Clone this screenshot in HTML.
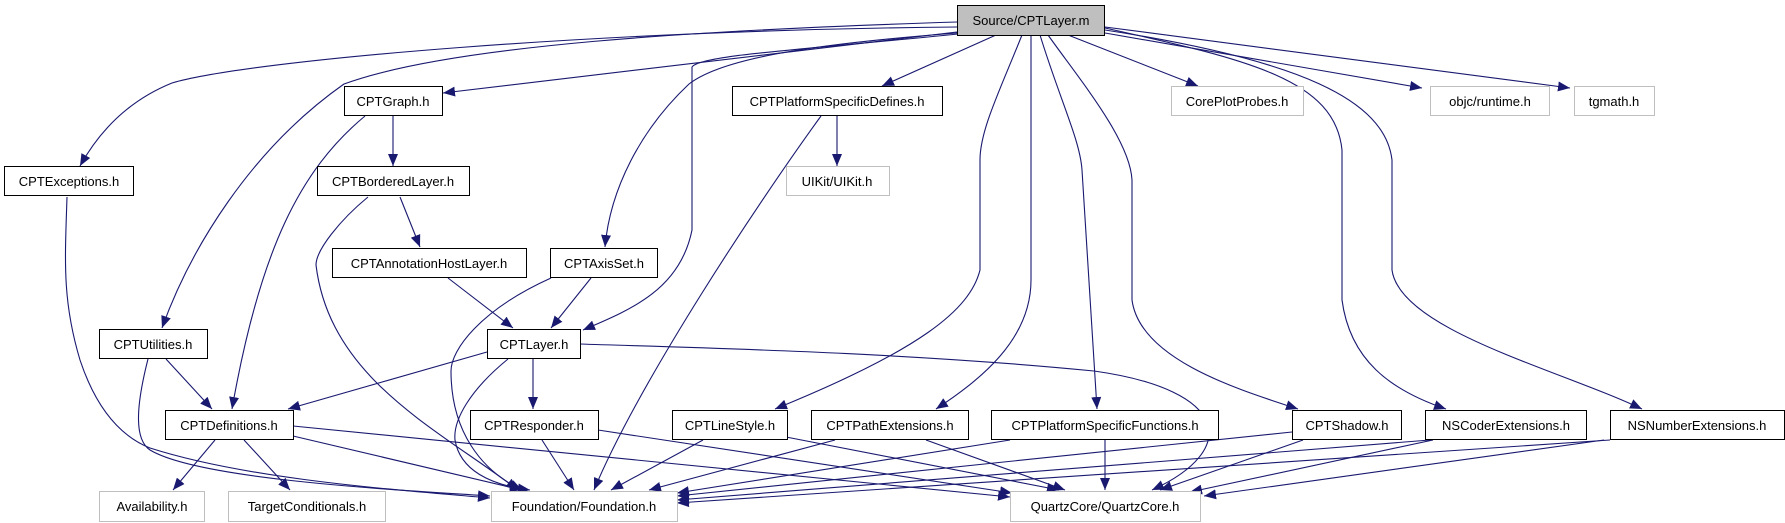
<!DOCTYPE html>
<html><head><meta charset="utf-8"><style>
html,body{margin:0;padding:0;background:#fff;}
svg{display:block;}
text{font-family:"Liberation Sans",sans-serif;font-size:13px;fill:#000;}
</style></head><body>
<svg width="1785" height="523" viewBox="0 0 1785 523" xmlns="http://www.w3.org/2000/svg">
<defs>
<marker id="a" markerWidth="13" markerHeight="10" refX="12" refY="5" orient="auto" markerUnits="userSpaceOnUse">
<path d="M0,0 L12,5 L0,10 z" fill="#191970"/>
</marker>
</defs>
<g fill="none" stroke="#191970" stroke-width="1.1" marker-end="url(#a)">
<path d="M957,27 C600,30 250,60 172,83 C130,100 100,130 80,166"/>
<path d="M957,22 C700,30 450,45 344,84 C250,150 190,250 162,328"/>
<path d="M957,32 L443,93"/>
<path d="M957,33 C800,45 720,60 689,84 C640,130 610,190 605,247"/>
<path d="M958,34 C800,50 700,55 692,67 C692,120 692,200 692,230 C680,290 630,310 583,330"/>
<path d="M996,35 L882,86"/>
<path d="M1022,35 C1000,90 980,130 980,160 L980,270 C970,310 920,350 775,409"/>
<path d="M1031,35 L1031,280 C1031,340 980,380 936,409"/>
<path d="M1040,35 C1060,100 1080,140 1082,170 L1097,409"/>
<path d="M1048,35 C1080,80 1130,140 1132,180 L1132,300 C1140,360 1240,390 1298,409"/>
<path d="M1068,35 L1198,86"/>
<path d="M1105,28 C1250,60 1335,80 1342,150 L1342,300 C1350,360 1390,390 1446,409"/>
<path d="M1105,30 C1300,60 1385,100 1392,160 L1392,270 C1400,330 1560,370 1642,409"/>
<path d="M1105,33 L1422,88"/>
<path d="M1105,27 L1570,88"/>
<path d="M837,116 L837,166"/>
<path d="M821,116 C760,200 640,380 594,490"/>
<path d="M393,116 L393,166"/>
<path d="M365,116 C300,170 260,250 232,409"/>
<path d="M400,197 L420,247"/>
<path d="M368,197 C340,220 316,250 316,265 C330,380 440,430 518,490"/>
<path d="M448,278 L513,328"/>
<path d="M591,278 L551,328"/>
<path d="M551,278 C480,310 451,350 451,371 C451,430 480,470 522,490"/>
<path d="M487,352 L288,409"/>
<path d="M533,359 L533,409"/>
<path d="M508,359 C470,390 453,420 455,440 C460,470 490,485 530,490"/>
<path d="M580,344 C700,348 900,352 1094,371 C1230,390 1240,450 1152,490"/>
<path d="M166,359 L212,409"/>
<path d="M148,359 C135,410 135,440 150,450 C200,480 400,490 490,496"/>
<path d="M67,197 C65,260 62,300 80,360 C100,420 130,440 150,448 C250,480 400,490 490,498"/>
<path d="M215,440 L173,490"/>
<path d="M244,440 L290,490"/>
<path d="M293,436 L522,490"/>
<path d="M293,426 L1010,497"/>
<path d="M542,440 L574,490"/>
<path d="M598,430 L1012,493"/>
<path d="M703,440 L611,490"/>
<path d="M786,437 L1059,490"/>
<path d="M835,440 L649,490"/>
<path d="M926,440 L1065,490"/>
<path d="M1010,440 L677,493"/>
<path d="M1105,440 L1105,490"/>
<path d="M1292,432 L677,496"/>
<path d="M1303,440 L1160,490"/>
<path d="M1430,440 L677,500"/>
<path d="M1433,440 L1190,492"/>
<path d="M1610,440 L677,503"/>
<path d="M1604,440 L1204,496"/>
</g>
<g stroke-width="1">
<rect x="957.5" y="5.5" width="147" height="30" fill="#bfbfbf" stroke="#000"/>
<g fill="#fff" stroke="#000">
<rect x="344.5" y="86.5" width="98" height="29"/>
<rect x="732.5" y="86.5" width="210" height="29"/>
<rect x="4.5" y="166.5" width="129" height="29"/>
<rect x="317.5" y="166.5" width="152" height="29"/>
<rect x="332.5" y="248.5" width="194" height="29"/>
<rect x="550.5" y="248.5" width="107" height="29"/>
<rect x="99.5" y="329.5" width="108" height="29"/>
<rect x="487.5" y="329.5" width="93" height="29"/>
<rect x="165.5" y="410.5" width="128" height="29"/>
<rect x="470.5" y="410.5" width="128" height="29"/>
<rect x="672.5" y="410.5" width="115" height="29"/>
<rect x="811.5" y="410.5" width="157" height="29"/>
<rect x="991.5" y="410.5" width="227" height="29"/>
<rect x="1292.5" y="410.5" width="109" height="29"/>
<rect x="1425.5" y="410.5" width="161" height="29"/>
<rect x="1610.5" y="410.5" width="174" height="29"/>
</g>
<g fill="#fff" stroke="#bfbfbf">
<rect x="1171.5" y="86.5" width="132" height="29"/>
<rect x="1430.5" y="86.5" width="119" height="29"/>
<rect x="1574.5" y="86.5" width="80" height="29"/>
<rect x="786.5" y="166.5" width="103" height="29"/>
<rect x="99.5" y="491.5" width="105" height="30"/>
<rect x="228.5" y="491.5" width="157" height="30"/>
<rect x="491.5" y="491.5" width="186" height="30"/>
<rect x="1010.5" y="491.5" width="190" height="30"/>
</g>
</g>
<g text-anchor="middle">
<text x="1031" y="25">Source/CPTLayer.m</text>
<text x="393" y="106">CPTGraph.h</text>
<text x="837" y="106">CPTPlatformSpecificDefines.h</text>
<text x="1237" y="106">CorePlotProbes.h</text>
<text x="1490" y="106">objc/runtime.h</text>
<text x="1614" y="106">tgmath.h</text>
<text x="69" y="186">CPTExceptions.h</text>
<text x="393" y="186">CPTBorderedLayer.h</text>
<text x="837" y="186">UIKit/UIKit.h</text>
<text x="429" y="268">CPTAnnotationHostLayer.h</text>
<text x="604" y="268">CPTAxisSet.h</text>
<text x="153" y="349">CPTUtilities.h</text>
<text x="534" y="349">CPTLayer.h</text>
<text x="229" y="430">CPTDefinitions.h</text>
<text x="534" y="430">CPTResponder.h</text>
<text x="730" y="430">CPTLineStyle.h</text>
<text x="890" y="430">CPTPathExtensions.h</text>
<text x="1105" y="430">CPTPlatformSpecificFunctions.h</text>
<text x="1347" y="430">CPTShadow.h</text>
<text x="1506" y="430">NSCoderExtensions.h</text>
<text x="1697" y="430">NSNumberExtensions.h</text>
<text x="152" y="511">Availability.h</text>
<text x="307" y="511">TargetConditionals.h</text>
<text x="584" y="511">Foundation/Foundation.h</text>
<text x="1105" y="511">QuartzCore/QuartzCore.h</text>
</g>
</svg>
</body></html>
